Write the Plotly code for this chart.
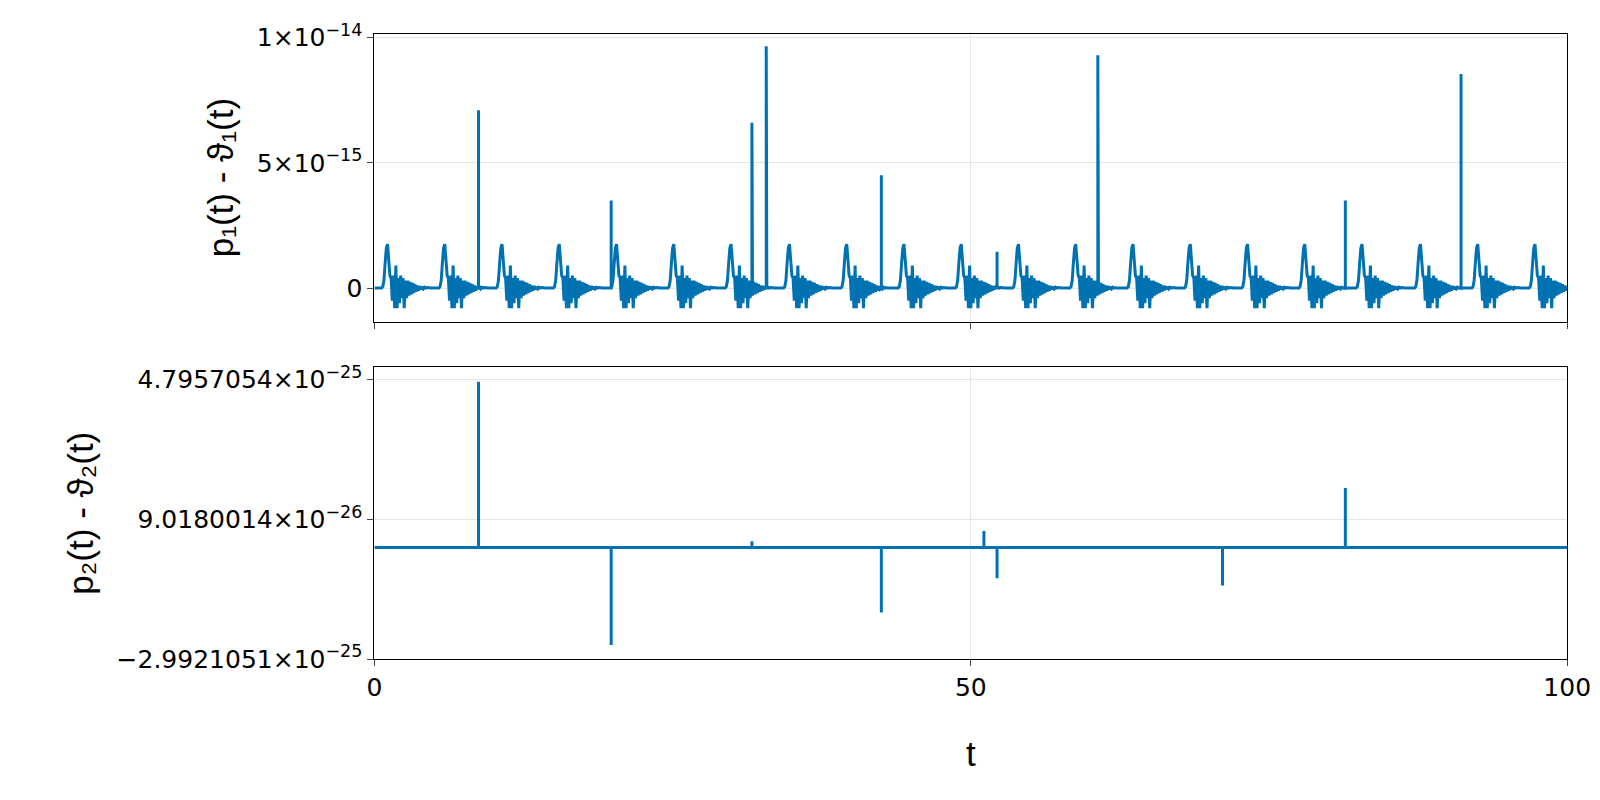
import plotly.graph_objects as go
import numpy as np

# bump onset times (t)
bump_starts = [0.9, 5.7, 10.5, 15.3, 20.1, 24.9, 29.7, 34.6, 39.4, 44.2, 49.0, 53.8, 58.6, 63.4, 68.2, 73.0, 77.8, 82.6, 87.5, 92.3, 97.1]
# one bump profile, sampled every 0.1 in t (units of 1e-15)
bump_profile = [0.0, 0.05, 0.3, 1.0, 1.6, 1.75, 1.2, 0.5, 0.4, -0.5, 0.5, -0.8, 0.9, -0.8, 0.4, -0.6,
                0.5, -0.4, 0.4, -0.8, 0.3, -0.4, 0.3, -0.3, 0.25, -0.25, 0.2, -0.2, 0.15, -0.15,
                0.1, -0.1, 0.08, -0.05, 0.05, -0.03, 0.03, 0.0, 0.02, 0.0, 0.01, 0.0, 0.0, 0.0, 0.0, 0.0, 0.0, 0.0]
# isolated spikes (t, value)
spike_t1 = [8.73, 19.85, 31.65, 32.85, 42.5, 52.2, 60.65, 81.4, 91.1]
spike_v1 = [7.1e-15, 3.5e-15, 6.6e-15, 9.65e-15, 4.5e-15, 1.45e-15, 9.3e-15, 3.5e-15, 8.55e-15]
spike_t2 = [8.73, 19.85, 31.65, 42.5, 51.1, 52.2, 62.5, 65.0, 71.1, 81.4]
spike_v2 = [4.73e-25, -2.596e-25, 2.93e-26, -1.69e-25, 5.76e-26, -7.4e-26, 8e-27, 8e-27, -9.4e-26, 1.77e-25]
base2 = 1.2e-26

# assemble top series
t1, v1 = [0.0], [0.0]
for s in bump_starts:
    for i, b in enumerate(bump_profile):
        tt = s - 0.3 + 0.1 * i
        if tt <= 100:
            t1.append(tt); v1.append(b * 1e-15)
t1.append(100.0); v1.append(0.0)
order = np.argsort(t1)
t1 = list(np.array(t1)[order]); v1 = list(np.array(v1)[order])
for st, sv in zip(spike_t1, spike_v1):
    k = int(np.searchsorted(t1, st))
    t1[k:k] = [st, st, st]; v1[k:k] = [0.0, sv, 0.0]

t2, v2 = [0.0], [base2]
for st, sv in zip(spike_t2, spike_v2):
    t2 += [st, st, st]; v2 += [base2, sv, base2]
t2.append(100.0); v2.append(base2)

blue = "#0072B2"
fig = go.Figure()
fig.add_trace(go.Scatter(x=t1, y=v1, mode="lines", line=dict(color=blue, width=3), xaxis="x", yaxis="y"))
fig.add_trace(go.Scatter(x=t2, y=v2, mode="lines", line=dict(color=blue, width=3), xaxis="x2", yaxis="y2"))

ax = dict(showline=True, linecolor="black", linewidth=1, mirror=True, ticks="outside", ticklen=6,
          showgrid=True, gridcolor="#e5e5e5", zeroline=False, automargin=False,
          tickfont=dict(size=25, color="black", family="DejaVu Sans"))
fig.update_layout(
    width=1600, height=800, margin=dict(l=0, r=0, t=0, b=0),
    plot_bgcolor="white", paper_bgcolor="white", showlegend=False,
    font=dict(family="Liberation Sans, Arial", color="black"),
    xaxis=dict(ax, domain=[0.229, 0.9745], range=[0, 100], tickvals=[0, 50, 100], showticklabels=False, anchor="y"),
    yaxis=dict(ax, domain=[0.608, 0.968], range=[-1.34e-15, 1.016e-14], tickvals=[0, 5e-15, 1e-14],
               ticktext=["0", "5×10<sup>−15</sup>", "1×10<sup>−14</sup>"],
               title=dict(text="p₁(t) - ϑ₁(t)", font=dict(size=35), standoff=12), anchor="x"),
    xaxis2=dict(ax, domain=[0.229, 0.9745], range=[0, 100], tickvals=[0, 50, 100], anchor="y2",
                title=dict(text="t", font=dict(size=35), standoff=40)),
    yaxis2=dict(ax, domain=[0.186, 0.551], range=[-2.9921051e-25, 5.136e-25],
                tickvals=[-2.9921051e-25, 9.018001e-26, 4.7957054e-25],
                ticktext=["−2.9921051×10<sup>−25</sup>", "9.0180014×10<sup>−26</sup>", "4.7957054×10<sup>−25</sup>"],
                title=dict(text="p₂(t) - ϑ₂(t)", font=dict(size=35), standoff=12), anchor="x2"),
)
fig.write_html("out.html")
